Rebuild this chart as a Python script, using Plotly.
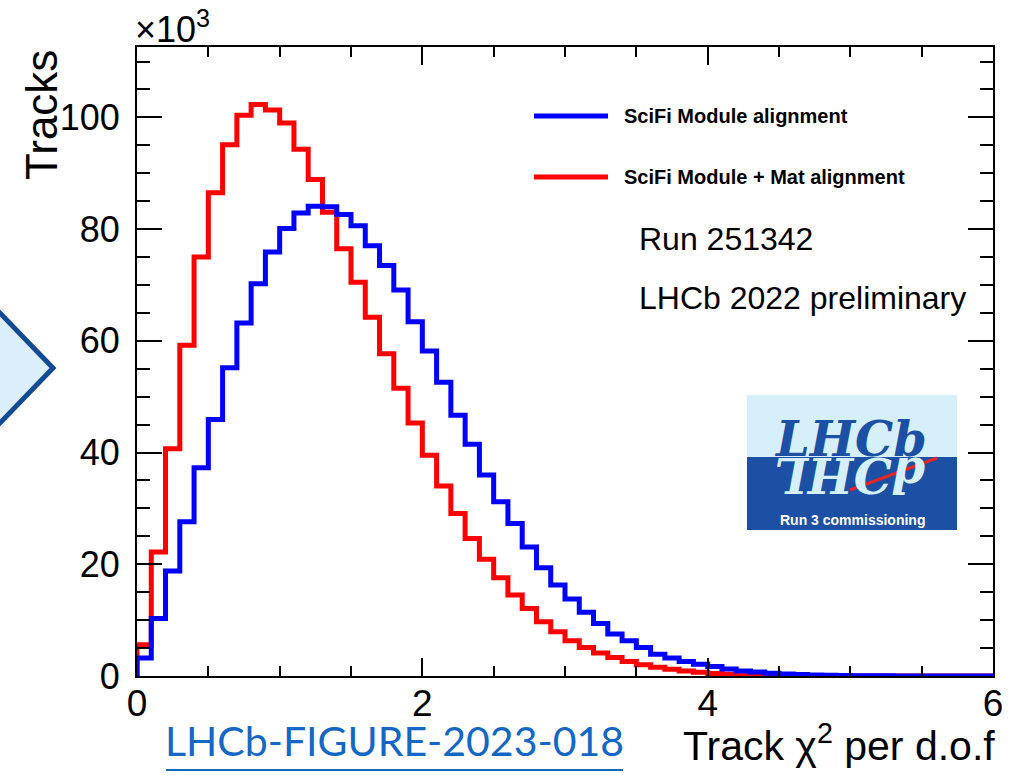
import numpy as np
import plotly.graph_objects as go

# ---------------- data (thousands of tracks per 0.1 bin) ----------------
bin_lo, bin_hi, n_bins = 0.0, 6.0, 60
module_align = [3.2, 10.3, 18.8, 27.6, 37.3, 45.9, 55.2, 63.2, 70.2, 75.9,
                80.1, 82.9, 84.1, 84.0, 82.6, 80.6, 77.0, 73.5, 69.1, 63.4,
                58.2, 52.6, 46.7, 41.5, 36.0, 31.2, 27.3, 23.1, 19.4, 16.3,
                13.8, 11.4, 9.4, 7.5, 6.3, 5.1, 3.9, 3.2, 2.6, 2.1,
                1.7, 1.25, 0.9, 0.7, 0.5, 0.35, 0.25, 0.17, 0.12, 0.08,
                0.05, 0.04, 0.03, 0.02, 0.015, 0.01, 0.01, 0.005, 0.005, 0.003]
module_mat_align = [5.6, 22.2, 40.7, 59.2, 75.0, 86.5, 95.1, 100.4, 102.3, 101.3,
                    99.0, 94.3, 88.9, 83.0, 76.5, 70.5, 64.2, 57.7, 51.5, 45.3,
                    39.5, 34.0, 29.1, 24.6, 20.9, 17.6, 14.5, 12.1, 9.7, 7.9,
                    6.3, 5.1, 4.1, 3.3, 2.6, 2.0, 1.55, 1.2, 0.9, 0.65,
                    0.45, 0.3, 0.2, 0.13, 0.08, 0.05, 0.03, 0.02, 0.01, 0.005,
                    0.004, 0.003, 0.002, 0.001, 0.001, 0.0, 0.0, 0.0, 0.0, 0.0]
series_names = ["SciFi Module alignment", "SciFi Module + Mat alignment"]
series_colors = ["#0000ff", "#ff0000"]
y_ticks = [0, 20, 40, 60, 80, 100]
x_ticks = [0, 2, 4, 6]

edges = np.linspace(bin_lo, bin_hi, n_bins + 1)

def hist_outline(vals):
    xs = [edges[0]] + list(edges[:-1]) + [edges[-1], edges[-1]]
    ys = [0] + list(vals) + [vals[-1], 0]
    return xs, ys

# ---------------- geometry helpers (pixels -> paper) ----------------
W, H = 1020, 777
L, R, T, B = 137, 27, 47, 101
PW, PH = W - L - R, H - T - B
def px(x):
    return (x - L) / PW
def py(y):
    return (H - B - y) / PH

FONT = "Liberation Sans, Arial, Helvetica, sans-serif"

fig = go.Figure()
for vals, name, col in [(module_mat_align, series_names[1], series_colors[1]),
                        (module_align, series_names[0], series_colors[0])]:
    xs, ys = hist_outline(vals)
    fig.add_trace(go.Scatter(x=xs, y=ys, mode="lines", name=name,
                             line=dict(color=col, width=5, shape="hv"),
                             showlegend=False))

axis_common = dict(showline=True, linecolor="black", linewidth=2, mirror="ticks",
                   ticks="inside", tickcolor="black", tickwidth=2,
                   showgrid=False, zeroline=False)
fig.update_xaxes(range=[bin_lo, bin_hi], tickvals=x_ticks, ticklen=18,
                 tickfont=dict(family=FONT, size=37, color="black"),
                 minor=dict(dtick=0.5, ticklen=10, tickwidth=2, tickcolor="black", ticks="inside", showgrid=False),
                 ticklabelstandoff=-6, **axis_common)
fig.update_yaxes(range=[0, 112.6], tickvals=y_ticks, ticklen=25,
                 tickfont=dict(family=FONT, size=36, color="black"),
                 minor=dict(dtick=5, ticklen=13, tickwidth=2, tickcolor="black", ticks="inside", showgrid=False),
                 ticklabelstandoff=8, **axis_common)

ann = []
shapes = []
# axis titles / multiplier
ann.append(dict(text="×10<sup>3</sup>", x=px(134), y=py(51), xanchor="left", yanchor="bottom",
                font=dict(family=FONT, size=36, color="black")))
ann.append(dict(text="Tracks", x=px(41), y=py(115), xanchor="center", yanchor="middle", textangle=-90,
                font=dict(family=FONT, size=44, color="black")))
ann.append(dict(text="Track χ<sup>2</sup> per d.o.f", x=px(996), y=py(743), xanchor="right", yanchor="middle",
                font=dict(family=FONT, size=41, color="black")))
# link text
ann.append(dict(text="LHCb-FIGURE-2023-018", x=px(164), y=py(740), xanchor="left", yanchor="middle",
                font=dict(family="Lato, Open Sans, sans-serif", size=41, color="#1467c4")))
shapes.append(dict(type="line", xref="paper", yref="paper", x0=px(166), x1=px(623), y0=py(770), y1=py(770),
                   line=dict(color="#1467c4", width=2)))
# legend
for i, (name, col) in enumerate(zip(series_names, series_colors)):
    yy = [116, 177][i]
    shapes.append(dict(type="line", xref="paper", yref="paper", x0=px(534), x1=px(608), y0=py(yy), y1=py(yy),
                       line=dict(color=col, width=5)))
    ann.append(dict(text="<b>" + name + "</b>", x=px(623), y=py(yy), xanchor="left", yanchor="middle",
                    font=dict(family=FONT, size=20, color="black")))
# run text
ann.append(dict(text="Run 251342", x=px(638), y=py(239), xanchor="left", yanchor="middle",
                font=dict(family=FONT, size=32, color="black")))
ann.append(dict(text="LHCb 2022 preliminary", x=px(638), y=py(298), xanchor="left", yanchor="middle",
                font=dict(family=FONT, size=32, color="black")))

# left arrow decoration
ax0, atop, abot, tipx, tipy = -10, 302.6, 433.4, 53, 368
shapes.append(dict(type="path", xref="paper", yref="paper",
                   path=f"M {px(ax0)},{py(atop)} L {px(tipx)},{py(tipy)} L {px(ax0)},{py(abot)} Z",
                   fillcolor="#dceefc", line=dict(color="#124a94", width=5)))

# LHCb logo
lx0, lx1, ly0, ymid, ly1 = 747, 957, 395, 457, 530
shapes.append(dict(type="rect", xref="paper", yref="paper", x0=px(lx0), x1=px(lx1), y0=py(ly0), y1=py(ymid),
                   fillcolor="#d5f0fa", line=dict(width=0), layer="above"))
shapes.append(dict(type="rect", xref="paper", yref="paper", x0=px(lx0), x1=px(lx1), y0=py(ymid), y1=py(ly1),
                   fillcolor="#1c50a5", line=dict(width=0), layer="above"))
ann.append(dict(text="<b><i>LHCb</i></b>", x=px(850), y=py(ymid + 11), xanchor="center", yanchor="bottom",
                font=dict(family="DejaVu Serif", size=48, color="#1c50a5")))
ann.append(dict(text="<b><i>dƆHL</i></b>", x=px(850), y=py(ymid - 11), xanchor="center", yanchor="top", textangle=180,
                font=dict(family="DejaVu Serif", size=48, color="#d5f0fa")))
shapes.append(dict(type="line", xref="paper", yref="paper", x0=px(850), x1=px(937), y0=py(490), y1=py(458),
                   line=dict(color="#e02828", width=3), layer="above"))
ann.append(dict(text="<b>Run 3 commissioning</b>", x=px(852), y=py(520), xanchor="center", yanchor="middle",
                font=dict(family=FONT, size=14, color="white")))

for a in ann:
    a.setdefault("xref", "paper")
    a.setdefault("yref", "paper")
    a["showarrow"] = False
    a["borderpad"] = 0

fig.update_layout(width=W, height=H, margin=dict(l=L, r=R, t=T, b=B),
                  paper_bgcolor="white", plot_bgcolor="white",
                  annotations=ann, shapes=shapes, showlegend=False)
fig.write_html("out.html")
